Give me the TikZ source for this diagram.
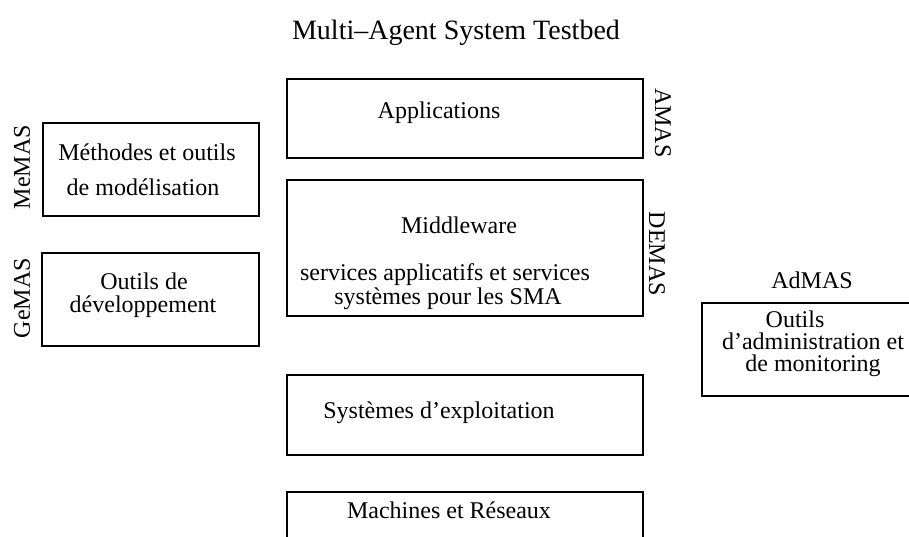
\documentclass[tikz,border=0pt]{standalone}
\usepackage{fontspec}
\setmainfont{Liberation Serif}
\begin{document}
\begin{tikzpicture}[x=0.5pt,y=-0.5pt,
  box/.style={draw=black, line width=0.8pt, inner sep=0pt, rectangle},
  txt/.style={inner sep=0pt, anchor=base, font=\fontsize{12}{14}\selectfont},
  ttl/.style={inner sep=0pt, font=\fontsize{14}{16}\selectfont},
  vlab/.style={inner sep=0pt, font=\fontsize{12}{14}\selectfont}]
\useasboundingbox (0,0) rectangle (909,536);
\clip (0,0) rectangle (909,536);
% title
\node[ttl] (title) at (456,33) {Multi--Agent System Testbed};
% central stack
\node[box, minimum width=178pt, minimum height=39.5pt] (app) at (465,118.5) {};
\node[box, minimum width=178pt, minimum height=68pt] (mid) at (465,248) {};
\node[box, minimum width=178pt, minimum height=40pt] (sys) at (465,415) {};
\node[box, minimum width=178pt, minimum height=40pt] (mach) at (465,532) {};
\node[txt] (tapp) at (439,118) {Applications};
\node[txt] (tmid) at (459,233) {Middleware};
\node[txt] (tmid2) at (445,280) {services applicatifs et services};
\node[txt] (tmid3) at (448,304) {systèmes pour les SMA};
\node[txt] (tsys) at (439,418) {Systèmes d’exploitation};
\node[txt] (tmach) at (449,518) {Machines et Réseaux};
% left boxes
\node[box, minimum width=108pt, minimum height=46.5pt] (me) at (151,169.5) {};
\node[box, minimum width=108.5pt, minimum height=46.5pt] (ge) at (150.5,299.5) {};
\node[txt] (tme1) at (147,160) {Méthodes et outils};
\node[txt] (tme2) at (143,195) {de modélisation};
\node[txt] (tge1) at (144,289) {Outils de};
\node[txt] (tge2) at (143,312) {développement};
% right box
\node[box, minimum width=111pt, minimum height=46.5pt] (ad) at (813,349.5) {};
\node[txt] (tad0) at (812,288) {AdMAS};
\node[txt] (tad1) at (795,327) {Outils};
\node[txt] (tad2) at (813,349) {d’administration et};
\node[txt] (tad3) at (813,371) {de monitoring};
% rotated labels
\node[vlab, rotate=90] (lme) at (22,167) {MeMAS};
\node[vlab, rotate=90] (lge) at (22,298) {GeMAS};
\node[vlab, rotate=-90] (lam) at (663,123) {AMAS};
\node[vlab, rotate=-90] (lde) at (657,254) {DEMAS};
\end{tikzpicture}
\end{document}
